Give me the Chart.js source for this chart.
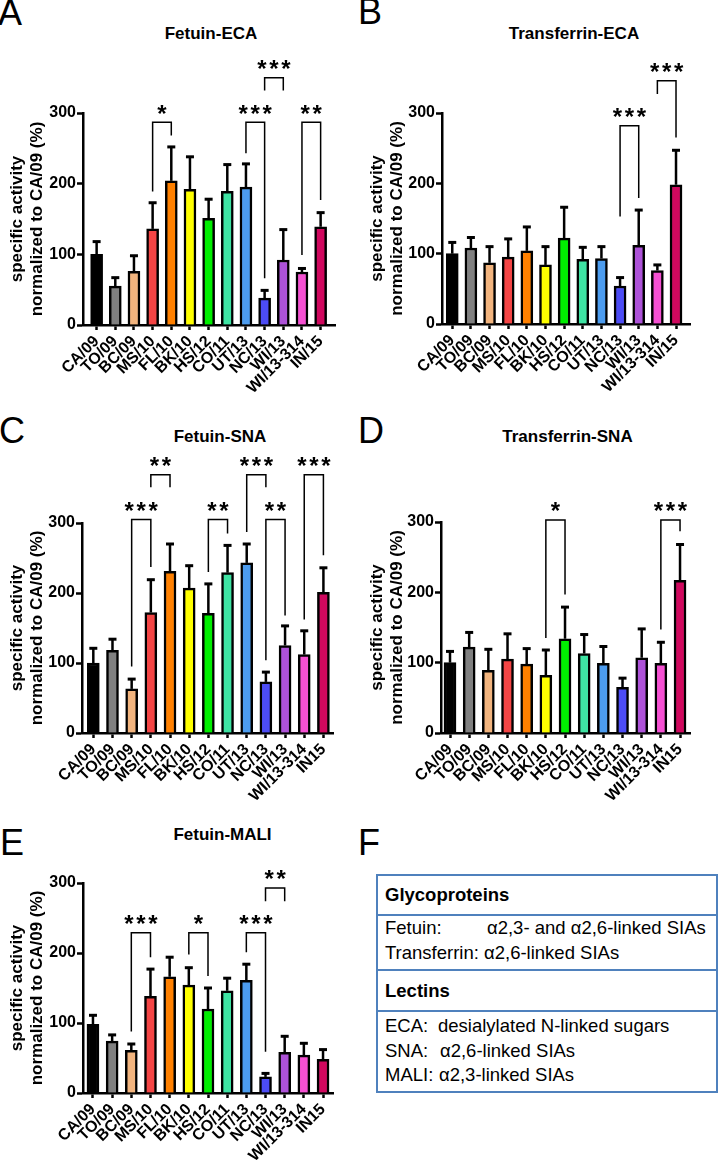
<!DOCTYPE html>
<html>
<head>
<meta charset="utf-8">
<script src="https://cdn.jsdelivr.net/npm/chart.js@4.4.0/dist/chart.umd.min.js"></script>
<style>
  body { margin:0; background:#fff; width:719px; height:1166px; position:relative; overflow:hidden;
         font-family:"Liberation Sans", Arial, sans-serif; color:#000; }
  .letter { position:absolute; font-size:36px; line-height:36px; }
  .ttl { position:absolute; font-size:17px; line-height:17px; font-weight:bold; white-space:nowrap; transform:translateX(-50%); }
  canvas { position:absolute; }
  #tbl { position:absolute; left:376px; top:874px; width:342px; height:219px; border:2px solid #4f81bd;
         box-sizing:border-box; font-size:18.5px; }
  #tbl .row { border-bottom:2px solid #4f81bd; padding-left:7px; white-space:nowrap; }
  #tbl .row:last-child { border-bottom:none; }
  #tbl .lab { display:inline-block; }
</style>
</head>
<body>

<div class="letter" style="left:-2px;top:-5.5px">A</div>
<div class="letter" style="left:358px;top:-6.5px">B</div>
<div class="letter" style="left:-1px;top:412.5px">C</div>
<div class="letter" style="left:358px;top:412.5px">D</div>
<div class="letter" style="left:0px;top:824.5px">E</div>
<div class="letter" style="left:358px;top:824.5px">F</div>

<div class="ttl" style="left:211px;top:24.7px">Fetuin-ECA</div>
<div class="ttl" style="left:574px;top:24.7px">Transferrin-ECA</div>
<div class="ttl" style="left:220px;top:427.7px">Fetuin-SNA</div>
<div class="ttl" style="left:567.5px;top:427.7px">Transferrin-SNA</div>
<div class="ttl" style="left:222.5px;top:826.2px">Fetuin-MALI</div>

<canvas id="cA" width="360" height="400" style="left:0;top:0"></canvas>
<canvas id="cB" width="359" height="400" style="left:360px;top:0"></canvas>
<canvas id="cC" width="360" height="420" style="left:0;top:380px"></canvas>
<canvas id="cD" width="359" height="420" style="left:360px;top:380px"></canvas>
<canvas id="cE" width="360" height="406" style="left:0;top:760px"></canvas>

<div id="tbl">
  <div class="row" style="height:38px;line-height:38px;font-weight:bold">Glycoproteins</div>
  <div class="row" style="height:53px;line-height:24.5px;padding-top:0">
    <div><span class="lab" style="width:102px">Fetuin:</span>α2,3- and α2,6-linked SIAs</div>
    <div>Transferrin: α2,6-linked SIAs</div>
  </div>
  <div class="row" style="height:39px;line-height:39px;font-weight:bold">Lectins</div>
  <div class="row" style="height:77px;line-height:24.5px;padding-top:2px">
    <div><span class="lab" style="width:53px">ECA:</span>desialylated N-linked sugars</div>
    <div><span class="lab" style="width:55px">SNA:</span>α2,6-linked SIAs</div>
    <div><span class="lab" style="width:54px">MALI:</span>α2,3-linked SIAs</div>
  </div>
</div>

<script>
// strains (x axis)
const strainsECA = ['CA/09','TO/09','BC/09','MS/10','FL/10','BK/10','HS/12','CO/11','UT/13','NC/13','WI/13','WI/13-314','IN/15'];
const strainsSNA = ['CA/09','TO/09','BC/09','MS/10','FL/10','BK/10','HS/12','CO/11','UT/13','NC/13','WI/13','WI/13-314','IN15'];
const barColors = ['#000000','#808080','#f2b47e','#f44545','#ff8000','#ffff00','#00ee00','#3ee3a3','#4c9cef','#4c4cf5','#ad52d8','#f550d2','#d0085e'];
const yTicks = [0, 100, 200, 300];

// mean and mean+SD, % of CA/09
const fetuinEcaMean = [100, 55, 76, 136, 204, 192, 151, 189, 195, 38, 92, 75, 139];
const fetuinEcaErr  = [118, 67, 98, 173, 252, 238, 178, 227, 228, 49, 135, 80, 159];
const transEcaMean  = [100, 108, 87, 95, 104, 84, 122, 92, 93, 54, 112, 76, 198];
const transEcaErr   = [116, 123, 110, 121, 138, 110, 166, 109, 110, 66, 162, 84, 247];
const fetuinSnaMean = [100, 118, 63, 172, 231, 207, 171, 229, 243, 73, 125, 112, 201];
const fetuinSnaErr  = [121, 134, 77, 219, 270, 239, 213, 268, 270, 87, 153, 146, 236];
const transSnaMean  = [100, 122, 89, 105, 98, 82, 134, 113, 99, 65, 107, 99, 217];
const transSnaErr   = [116, 143, 119, 141, 120, 118, 179, 140, 123, 78, 148, 129, 268];
const fetuinMaliMean = [98, 74, 61, 138, 166, 154, 120, 146, 161, 23, 58, 54, 48];
const fetuinMaliErr  = [111, 83, 70, 177, 194, 179, 150, 164, 184, 28, 81, 71, 62];

// significance brackets: [from, to, stars, top, left leg end, right leg end]
const fetuinEcaSig = [[3,4,'*',287,189,268],[8,9,'***',287,243,66],[9,10,'***',350,332,332],[11,12,'**',287,99,177]];
const transEcaSig  = [[9,10,'***',282,153,179],[11,12,'***',346,327,265]];
const fetuinSnaSig = [[2,3,'***',305,95,237],[3,4,'**',369,351,351],[6,7,'**',305,230,285],
                      [8,9,'***',369,287,351],[9,10,'**',305,104,168],[11,12,'***',369,162,254]];
const transSnaSig  = [[5,6,'*',303,135,197],[11,12,'***',303,147,287]];
const fetuinMaliSig = [[2,3,'***',229,88,194],[5,6,'*',229,198,167],[8,9,'***',229,201,59],[9,10,'**',293,274,274]];

Chart.defaults.font.family = "'Liberation Sans', Arial, sans-serif";
Chart.defaults.color = '#000';

const errorBars = {
  id: 'errorBars',
  afterDatasetsDraw(chart, args, opts) {
    const ctx = chart.ctx, xs = chart.scales.x, ys = chart.scales.y;
    ctx.save();
    ctx.strokeStyle = '#000';
    opts.err.forEach((e, i) => {
      const x = xs.getPixelForValue(i);
      const y0 = ys.getPixelForValue(opts.mean[i]);
      const y1 = ys.getPixelForValue(e);
      ctx.lineWidth = 2.5;
      ctx.beginPath(); ctx.moveTo(x, y0); ctx.lineTo(x, y1); ctx.stroke();
      ctx.lineWidth = 3;
      ctx.beginPath(); ctx.moveTo(x - 4, y1); ctx.lineTo(x + 4, y1); ctx.stroke();
    });
    ctx.restore();
  }
};

const brackets = {
  id: 'brackets',
  afterDraw(chart, args, opts) {
    const ctx = chart.ctx, xs = chart.scales.x, ys = chart.scales.y;
    ctx.save();
    ctx.strokeStyle = '#000';
    ctx.fillStyle = '#000';
    ctx.lineWidth = 1.5;
    ctx.font = "bold 24px 'Liberation Sans', Arial, sans-serif";
    ctx.textAlign = 'center';
    ctx.textBaseline = 'alphabetic';
    opts.sig.forEach(s => {
      const xa = xs.getPixelForValue(s[0]), xb = xs.getPixelForValue(s[1]);
      const yt = ys.getPixelForValue(s[3]);
      ctx.beginPath();
      ctx.moveTo(xa, ys.getPixelForValue(s[4]));
      ctx.lineTo(xa, yt);
      ctx.lineTo(xb, yt);
      ctx.lineTo(xb, ys.getPixelForValue(s[5]));
      ctx.stroke();
      const n = s[2].length, cx = (xa + xb) / 2;
      for (let k = 0; k < n; k++) {
        ctx.fillText('*', cx + (k - (n - 1) / 2) * 12, yt - 14.5 + 14);
      }
    });
    ctx.restore();
  }
};

function makePanel(id, names, mean, err, sig, box) {
  return new Chart(document.getElementById(id), {
    type: 'bar',
    data: {
      datasets: [{
        data: mean.map((v, i) => ({x: i, y: v})),
        backgroundColor: barColors,
        borderColor: '#000',
        borderWidth: 2.5,
        barThickness: 12
      }]
    },
    plugins: [errorBars, brackets],
    options: {
      responsive: false,
      animation: false,
      events: [],
      layout: { padding: { left: 0, right: box.padR, top: box.top, bottom: 0 } },
      plugins: {
        legend: { display: false },
        tooltip: { enabled: false },
        errorBars: { mean: mean, err: err },
        brackets: { sig: sig }
      },
      scales: {
        x: {
          type: 'linear',
          offset: false,
          min: box.xmin,
          max: box.xmax,
          afterBuildTicks: s => { s.ticks = names.map((n, i) => ({value: i})); },
          afterFit: s => { s.height = box.xH; },
          grid: { display: true, drawOnChartArea: false, offset: false, tickLength: 5, tickWidth: 2.5, tickColor: '#000' },
          border: { display: true, color: '#000', width: 2.5 },
          ticks: {
            autoSkip: false, maxRotation: 45, minRotation: 45, padding: 2,
            font: { size: 16, weight: 'bold' },
            callback: v => names[v]
          }
        },
        y: {
          min: 0,
          max: 300,
          afterBuildTicks: s => { s.ticks = yTicks.map(v => ({value: v})); },
          afterFit: s => { s.width = box.yW; },
          grid: { display: true, drawOnChartArea: false, tickLength: 6, tickWidth: 2.5, tickColor: '#000' },
          border: { display: true, color: '#000', width: 2.5 },
          ticks: { padding: 1, font: { size: 16, weight: 'bold' } },
          title: {
            display: true,
            text: ['specific activity', 'normalized to CA/09 (%)'],
            font: { size: 17, weight: 'bold', lineHeight: 1.18 },
            padding: { top: 7.5, bottom: 0 }
          }
        }
      }
    }
  });
}

makePanel('cA', strainsECA, fetuinEcaMean, fetuinEcaErr, fetuinEcaSig,
  { top: 113, yW: 83, padR: 25, xH: 75, xmin: -0.73, xmax: 12.77 });
makePanel('cB', strainsECA, transEcaMean, transEcaErr, transEcaSig,
  { top: 113, yW: 82, padR: 29, xH: 76, xmin: -0.55, xmax: 12.75 });
makePanel('cC', strainsSNA, fetuinSnaMean, fetuinSnaErr, fetuinSnaSig,
  { top: 143, yW: 82, padR: 27, xH: 67, xmin: -0.59, xmax: 12.5 });
makePanel('cD', strainsSNA, transSnaMean, transSnaErr, transSnaSig,
  { top: 142, yW: 81, padR: 29, xH: 67, xmin: -0.47, xmax: 12.52 });
makePanel('cE', strainsSNA, fetuinMaliMean, fetuinMaliErr, fetuinMaliSig,
  { top: 123, yW: 83, padR: 27, xH: 73, xmin: -0.52, xmax: 12.52 });
</script>
</body>
</html>
